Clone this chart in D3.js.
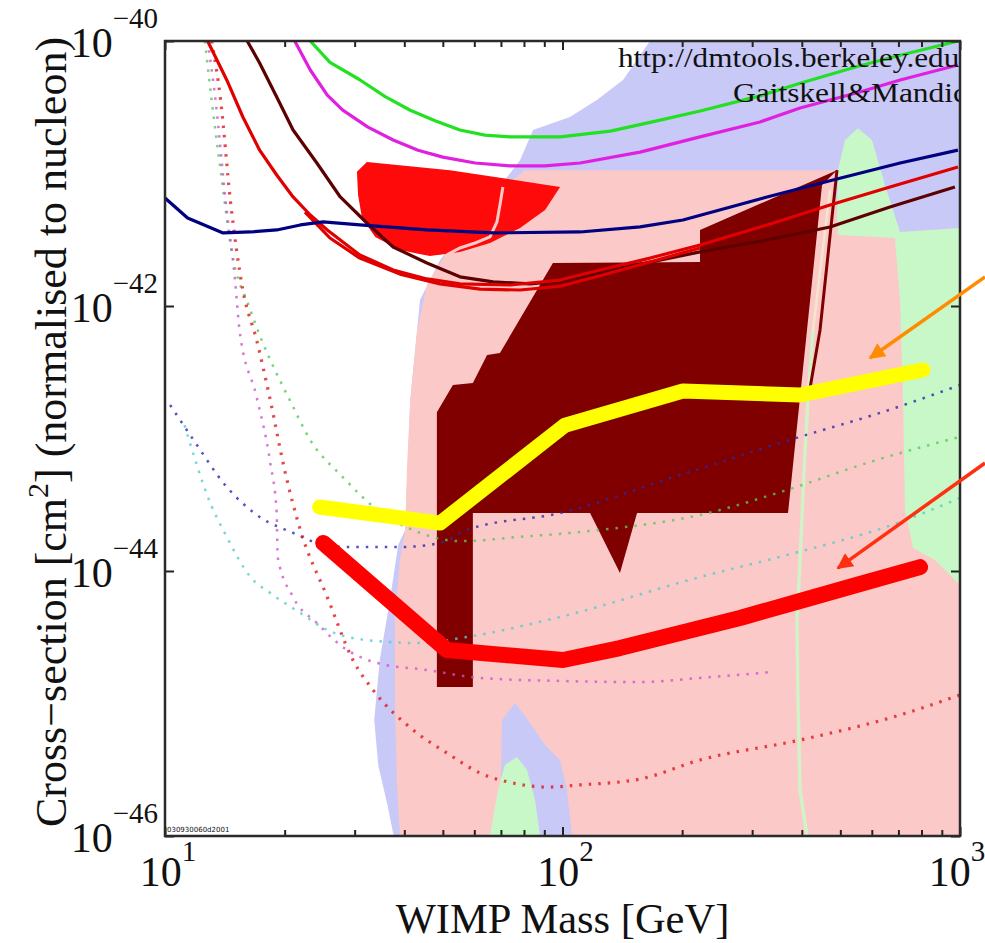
<!DOCTYPE html>
<html>
<head>
<meta charset="utf-8">
<script src="https://cdn.jsdelivr.net/npm/d3@7"></script>
<style>
  html, body { margin: 0; padding: 0; background: #fff; }
  svg { display: block; }
  text { font-family: "Liberation Serif", "Times New Roman", serif; fill: #111; }
</style>
</head>
<body>
<div id="chart"></div>
<script>
// WIMP-nucleon cross-section limits (dmtools style plot).
// Every point is [WIMP mass in GeV, cross-section in cm^2].

const xLabelValues = [10, 100, 1000];
const yLabelValues = [1e-40, 1e-42, 1e-44, 1e-46];
const xMinorValues = [20, 30, 40, 50, 60, 70, 80, 90, 200, 300, 400, 500, 600, 700, 800, 900];

// filled regions
const blueRegion = [[166, 1e-40], [142, 5.08e-41], [122, 3.59e-41], [104.4, 2.67e-41], [84.3, 2.13e-41],
  [78.2, 1.26e-41], [71.6, 8.93e-42], [58.5, 4.46e-42], [49.2, 2.22e-42], [43.8, 1.11e-42], [41.4, 1.95e-43],
  [40.2, 2.04e-44], [38.6, 1.57e-44], [36.8, 6.04e-45], [34.7, 2.13e-45], [33.6, 7.51e-46], [34.4, 3.4e-46],
  [36.3, 1.7e-46], [37.6, 1e-46], [1000, 1e-46], [1000, 1e-40]];
const greenRegion = [[487.5, 2.22e-42], [493.2, 1.06e-41], [513.6, 1.79e-41], [553.8, 2.2e-41], [600.5, 1.79e-41],
  [647.6, 8.19e-42], [706.5, 3.62e-42], [1000, 3.88e-42], [1000, 7.84e-45], [487.5, 7.84e-45]];
const pinkRegion = [[80.5, 1.06e-41], [69.6, 7.51e-42], [58.5, 4.86e-42], [50.6, 2.43e-42], [45.6, 1.44e-42],
  [43.1, 6.59e-43], [41.4, 1.95e-43], [40.6, 5.78e-44], [40.2, 2.04e-44], [39.0, 1.21e-44], [37.9, 4.27e-45],
  [37.9, 1.06e-45], [38.3, 2.65e-46], [39.0, 1e-46], [1000, 1e-46], [1000, 7.84e-45], [865, 1.21e-44],
  [762, 1.49e-44], [727, 2.89e-44], [719, 1.95e-43], [706.5, 1.11e-42], [686, 3.26e-42], [493.2, 3.44e-42],
  [484.7, 1.06e-41]];
const bluePeak = [[69.6, 1e-46], [70.4, 7.51e-46], [76.0, 1.01e-45], [81.9, 7.51e-46], [90.4, 4.86e-46],
  [98.6, 3.75e-46], [102.6, 2.22e-46], [105.7, 1e-46]];
const greenPeak = [[65.7, 1e-46], [68.8, 2.22e-46], [71.6, 3.44e-46], [76.8, 3.95e-46], [81.4, 3.15e-46],
  [85.3, 1.87e-46], [87.8, 1e-46]];
const redRegion = [[30.4, 1.03e-41], [32.2, 1.22e-41], [52.1, 1.06e-41], [98.6, 7.91e-42], [90.4, 5.3e-42],
  [78.2, 3.88e-42], [65.7, 2.99e-42], [55.2, 2.56e-42], [46.4, 2.38e-42], [39.0, 2.65e-42], [33.8, 3.32e-42],
  [31.3, 4.61e-42], [30.6, 6.88e-42]];
const redRegionVein = [[70.8, 7.91e-42], [69.6, 5.78e-42], [68.4, 4.31e-42], [65.7, 3.32e-42], [60.3, 2.99e-42],
  [55.2, 2.74e-42], [51.2, 2.43e-42]];
const maroonRegion = [[490.4, 1.06e-41], [221.8, 3.75e-42], [221.8, 2.15e-42], [94.6, 2.11e-42], [69.6, 4.42e-43],
  [64.6, 4.27e-43], [59.5, 2.62e-43], [53.0, 2.53e-43], [48.3, 1.58e-43], [48.3, 1.33e-45], [59.5, 1.33e-45],
  [59.5, 2.74e-44], [117.3, 2.74e-44], [139.5, 9.66e-45], [154.0, 2.74e-44], [369.3, 2.74e-44], [449.7, 8.19e-42]];
const maroonEdge = [[490.4, 1.06e-41], [444.5, 6.59e-43], [414.6, 1.95e-43]];
const creamEdge = [[470.9, 7.51e-42], [426.8, 6.59e-43]];
const paleGreenLine = [[426.8, 6.59e-43], [414.6, 1.95e-43], [407.5, 8.19e-44], [395.9, 1.21e-44], [389.0, 4.27e-45],
  [391.3, 1.06e-45], [395.9, 2.22e-46], [412.2, 1e-46]];

// dotted curves
const greenDotted = [[12.6, 1e-40], [13.1, 3.59e-41], [13.8, 1.06e-41], [14.7, 2.65e-42], [16.4, 9.33e-43],
  [17.5, 5.54e-43], [18.9, 3.29e-43], [20.6, 1.95e-43], [23.2, 9.74e-44], [28.0, 5.12e-44], [34.2, 2.89e-44],
  [43.8, 1.94e-44], [55.2, 1.68e-44], [78.2, 1.81e-44], [124.3, 2.04e-44], [221.8, 2.65e-44], [367, 4.09e-44],
  [594, 6.65e-44], [1000, 1.03e-43]];
const magentaDotted = [[12.8, 1e-40], [13.4, 3.59e-41], [14.2, 6.31e-42], [15.0, 1.57e-42], [15.4, 6.59e-43],
  [17.0, 2.06e-43], [18.4, 6.53e-44], [19.1, 2.74e-44], [19.2, 1.28e-44], [21.0, 6.36e-45], [24.1, 4.05e-45],
  [28.0, 2.67e-45], [34.2, 2.02e-45], [45.6, 1.79e-45], [62.0, 1.56e-45], [98.6, 1.48e-45], [156.7, 1.45e-45],
  [221.8, 1.56e-45], [338.5, 1.73e-45]];
const redDotted = [[13.1, 1e-40], [13.8, 3.59e-41], [14.6, 6.31e-42], [15.7, 1.32e-42], [17.0, 5.54e-43],
  [18.4, 1.95e-43], [20.0, 5.78e-44], [21.9, 2.04e-44], [25.6, 6.36e-45], [29.7, 2.13e-45], [33.4, 1.26e-45],
  [42.1, 6.31e-46], [51.2, 4.23e-46], [62.0, 2.99e-46], [75.1, 2.51e-46], [91.4, 2.34e-46], [110.7, 2.43e-46],
  [156.7, 2.69e-46], [221.8, 3.75e-46], [395.9, 5.3e-46], [706.5, 8.19e-46], [1000, 1.16e-45]];
const blueDotted = [[10.3, 1.79e-43], [11.8, 9.74e-44], [14.3, 4.31e-44], [17.3, 2.56e-44], [21.0, 1.94e-44],
  [24.1, 1.63e-44], [28.0, 1.52e-44], [39.7, 1.52e-44], [49.2, 1.63e-44], [57.5, 2.04e-44], [98.6, 2.74e-44],
  [197.6, 5.3e-44], [395.9, 1.03e-43], [629, 1.56e-43], [1000, 2.53e-43]];
const cyanDotted = [[11.2, 1.26e-43], [13.0, 3.26e-44], [14.3, 1.81e-44], [16.4, 9.01e-45], [18.4, 6.82e-45],
  [21.9, 4.82e-45], [25.6, 3.59e-45], [32.2, 3.01e-45], [43.8, 2.86e-45], [57.5, 3.18e-45], [98.6, 4.5e-45],
  [221.8, 9.01e-45], [352.5, 1.28e-44], [706.5, 2.34e-44], [1000, 3.56e-44]];

// solid limit curves
const greenLimit = [[23.2, 1e-40], [26.0, 6.9e-41], [30.9, 5.1e-41], [35.8, 3.8e-41], [41.4, 3.0e-41], [47.8, 2.5e-41],
  [55.2, 2.13e-41], [63.8, 1.95e-41], [73.8, 1.89e-41], [98.6, 1.89e-41], [132, 2.09e-41], [176, 2.53e-41],
  [222, 2.96e-41], [314, 3.85e-41], [396, 4.8e-41], [560, 6.5e-41], [707, 7.8e-41], [990, 1e-40]];
const magentaLimit = [[21.2, 1e-40], [23.2, 6.04e-41], [25.6, 3.91e-41], [28.0, 3.01e-41], [32.4, 2.24e-41],
  [37.5, 1.79e-41], [43.3, 1.5e-41], [50.0, 1.33e-41], [60.3, 1.2e-41], [73.8, 1.14e-41], [90.4, 1.14e-41],
  [110.7, 1.2e-41], [156.7, 1.45e-41], [221.8, 1.89e-41], [314, 2.45e-41], [396, 3.12e-41], [560, 4.12e-41],
  [707, 5.08e-41], [988, 6.59e-41]];
const brownLimit = [[16.1, 1e-40], [17.3, 6.82e-41], [19.1, 3.78e-41], [21.0, 2.13e-41], [24.1, 1.2e-41],
  [27.6, 6.65e-42], [32.2, 4.23e-42], [37.5, 2.79e-42], [45.6, 2.11e-42], [55.2, 1.66e-42], [66.9, 1.52e-42],
  [82.8, 1.47e-42], [104.4, 1.57e-42], [156.7, 2.07e-42], [221.8, 2.56e-42], [327, 3.15e-42], [470.9, 3.95e-42],
  [666.6, 5.59e-42], [971, 7.91e-42]];
const redLimitA = [[12.8, 1e-40], [14.3, 5.08e-41], [15.7, 2.67e-41], [17.3, 1.5e-41], [19.1, 9.74e-42],
  [21.0, 6.65e-42], [23.2, 4.86e-42], [25.6, 3.75e-42], [30.9, 2.43e-42], [37.5, 1.87e-42], [45.6, 1.6e-42],
  [55.2, 1.47e-42], [73.8, 1.44e-42], [98.6, 1.57e-42], [124.3, 1.87e-42], [166.1, 2.3e-42], [221.8, 2.89e-42],
  [327, 4.09e-42], [470.9, 5.78e-42], [666.6, 7.91e-42], [988.5, 1.12e-41]];
const redLimitB = [[22.5, 5.12e-42], [26.0, 3.26e-42], [30.9, 2.3e-42], [39.0, 1.74e-42], [49.2, 1.47e-42],
  [62.0, 1.34e-42], [78.2, 1.32e-42], [98.6, 1.41e-42], [124.3, 1.69e-42], [166.1, 2.15e-42], [221.8, 2.74e-42]];
const navyLimit = [[10, 6.53e-42], [11.4, 4.61e-42], [14.0, 3.56e-42], [16.4, 3.62e-42], [19.1, 3.75e-42],
  [21.9, 4.09e-42], [25.0, 4.31e-42], [30.9, 4.09e-42], [45.6, 3.75e-42], [66.9, 3.56e-42], [110.7, 3.62e-42],
  [156.7, 3.95e-42], [200.9, 4.46e-42], [327, 6.65e-42], [479, 8.93e-42], [707, 1.2e-41], [988, 1.5e-41]];

// thick projected sensitivities
const yellowProjection = [[24.5, 3.04e-44], [49.2, 2.3e-44], [101.5, 1.26e-43], [200.9, 2.28e-43],
  [395.9, 2.13e-43], [807, 3.29e-43]];
const redProjection = [[25.0, 1.63e-44], [51.2, 2.53e-45], [100.3, 2.13e-45], [139.5, 2.62e-45], [197.6, 3.4e-45],
  [279.6, 4.42e-45], [395.9, 5.94e-45], [560.2, 7.98e-45], [793.4, 1.07e-44]];

// annotation arrows: [start, tip]
const orangeArrow = [[1156, 1.66e-42], [594, 4.05e-43]];
const redArrow = [[1156, 6.53e-44], [493, 1.05e-44]];

const W = 985, H = 943;
const plot = { left: 165, right: 960, top: 41, bottom: 836 };

const svg = d3.select("#chart").append("svg")
    .attr("width", W)
    .attr("height", H);

const x = d3.scaleLog().domain([10, 1000]).range([plot.left, plot.right]);
const y = d3.scaleLog().domain([1e-46, 1e-40]).range([plot.bottom, plot.top]);
const line = d3.line().x(d => x(d[0])).y(d => y(d[1]));
const smooth = d3.line().x(d => x(d[0])).y(d => y(d[1])).curve(d3.curveMonotoneX);

const defs = svg.append("defs");
defs.append("clipPath").attr("id", "plot-clip")
  .append("rect")
    .attr("x", plot.left).attr("y", plot.top)
    .attr("width", plot.right - plot.left).attr("height", plot.bottom - plot.top);

// arrow heads
[["orange-head", "#ff8c00"], ["red-head", "#ff3010"]].forEach(([id, col]) => {
    defs.append("marker")
        .attr("id", id)
        .attr("viewBox", "0 0 10 10")
        .attr("refX", 9).attr("refY", 5)
        .attr("markerUnits", "userSpaceOnUse")
        .attr("markerWidth", 22).attr("markerHeight", 16)
        .attr("orient", "auto")
      .append("path")
        .attr("d", "M0,0 L10,5 L0,10 z")
        .attr("fill", col);
});

const g = svg.append("g").attr("clip-path", "url(#plot-clip)");

// regions, back to front
const regions = [
    { data: blueRegion, fill: "#c9c9f7" },
    { data: greenRegion, fill: "#c8f7c8" },
    { data: pinkRegion, fill: "#fcc9c9" },
    { data: bluePeak, fill: "#c9c9f7" },
    { data: greenPeak, fill: "#c8f7c8" },
    { data: redRegion, fill: "#ff0a0a" }
];
regions.forEach(r => {
    g.append("path").attr("d", line(r.data) + "Z").attr("fill", r.fill);
});

g.append("path").attr("d", line(redRegionVein))
    .attr("fill", "none").attr("stroke", "#fcc9c9").attr("stroke-width", 3);

g.append("path").attr("d", line(paleGreenLine))
    .attr("fill", "none").attr("stroke", "#d2f2c8").attr("stroke-width", 3.5);

g.append("path").attr("d", line(maroonRegion) + "Z").attr("fill", "#800000");
g.append("path").attr("d", line(maroonEdge))
    .attr("fill", "none").attr("stroke", "#800000").attr("stroke-width", 3);
g.append("path").attr("d", line(creamEdge))
    .attr("fill", "none").attr("stroke", "#f4e6cc").attr("stroke-width", 2.5);

// dotted curves
const dotted = [
    { data: greenDotted, color: "#58c858", width: 2.5 },
    { data: magentaDotted, color: "#cc55cc", width: 2.5 },
    { data: cyanDotted, color: "#55cccc", width: 2.5 },
    { data: blueDotted, color: "#2828b0", width: 2.5 },
    { data: redDotted, color: "#e01818", width: 3.2 }
];
dotted.forEach(c => {
    g.append("path").attr("d", smooth(c.data))
        .attr("fill", "none")
        .attr("stroke", c.color)
        .attr("stroke-width", c.width)
        .attr("stroke-dasharray", "2.5,7")
        .attr("opacity", 0.8);
});

// solid limit curves
const limits = [
    { data: greenLimit, color: "#22e022" },
    { data: magentaLimit, color: "#e020e0" },
    { data: brownLimit, color: "#5c0000" },
    { data: redLimitB, color: "#e00000" },
    { data: redLimitA, color: "#e00000" },
    { data: navyLimit, color: "#000080" }
];
limits.forEach(c => {
    g.append("path").attr("d", line(c.data))
        .attr("fill", "none")
        .attr("stroke", c.color)
        .attr("stroke-width", 3.2)
        .attr("stroke-linejoin", "round");
});

// thick projections
g.append("path").attr("d", line(yellowProjection))
    .attr("fill", "none").attr("stroke", "#ffff00")
    .attr("stroke-width", 15).attr("stroke-linejoin", "round").attr("stroke-linecap", "round");
g.append("path").attr("d", line(redProjection))
    .attr("fill", "none").attr("stroke", "#ff0000")
    .attr("stroke-width", 16).attr("stroke-linejoin", "round").attr("stroke-linecap", "round");

// credits inside the frame
g.append("text")
    .attr("x", 618).attr("y", 67)
    .attr("textLength", 350).attr("lengthAdjust", "spacingAndGlyphs")
    .style("font-size", "28px")
    .text("http://dmtools.berkeley.edu/");
g.append("text")
    .attr("x", 733).attr("y", 102)
    .attr("textLength", 234).attr("lengthAdjust", "spacingAndGlyphs")
    .style("font-size", "28px")
    .text("Gaitskell&Mandic");
g.append("text")
    .attr("x", 167).attr("y", 832)
    .style("font-size", "7px")
    .style("font-family", "DejaVu Sans")
    .text("030930060d2001");

// ticks (inward)
const axisStyle = sel => {
    sel.select(".domain").remove();
    sel.selectAll(".tick line").attr("stroke", "#222").attr("stroke-width", 2);
};
svg.append("g").attr("transform", `translate(0,${plot.bottom})`)
    .call(d3.axisBottom(x).tickValues(xMinorValues).tickSize(-6).tickFormat(""))
    .call(axisStyle);
svg.append("g").attr("transform", `translate(0,${plot.top})`)
    .call(d3.axisTop(x).tickValues(xMinorValues).tickSize(-6).tickFormat(""))
    .call(axisStyle);
svg.append("g").attr("transform", `translate(0,${plot.bottom})`)
    .call(d3.axisBottom(x).tickValues(xLabelValues).tickSize(-9).tickFormat(""))
    .call(axisStyle);
svg.append("g").attr("transform", `translate(0,${plot.top})`)
    .call(d3.axisTop(x).tickValues(xLabelValues).tickSize(-9).tickFormat(""))
    .call(axisStyle);
svg.append("g").attr("transform", `translate(${plot.left},0)`)
    .call(d3.axisLeft(y).tickValues(yLabelValues).tickSize(-9).tickFormat(""))
    .call(axisStyle);
svg.append("g").attr("transform", `translate(${plot.right},0)`)
    .call(d3.axisRight(y).tickValues(yLabelValues).tickSize(-9).tickFormat(""))
    .call(axisStyle);

// frame
svg.append("rect")
    .attr("x", plot.left).attr("y", plot.top)
    .attr("width", plot.right - plot.left).attr("height", plot.bottom - plot.top)
    .attr("fill", "none").attr("stroke", "#2a2a2a").attr("stroke-width", 2.5);

// tick labels: 10 with superscript exponent
yLabelValues.forEach(v => {
    const t = svg.append("text")
        .attr("x", plot.left - 7)
        .attr("y", y(v) + 16)
        .attr("text-anchor", "end")
        .style("font-size", "42px");
    t.append("tspan").text("10");
    t.append("tspan").attr("dy", -29).style("font-size", "29px")
        .text("\u2212" + Math.round(-Math.log10(v)));
});
xLabelValues.forEach(v => {
    const t = svg.append("text")
        .attr("x", x(v) + (v === 1000 ? -3 : 3))
        .attr("y", 886)
        .attr("text-anchor", "middle")
        .style("font-size", "42px");
    t.append("tspan").text("10");
    t.append("tspan").attr("dy", -25).style("font-size", "29px")
        .text(Math.round(Math.log10(v)));
});

// axis titles
svg.append("text")
    .attr("x", (plot.left + plot.right) / 2)
    .attr("y", 933)
    .attr("text-anchor", "middle")
    .style("font-size", "42.5px")
    .text("WIMP Mass [GeV]");

const yTitle = svg.append("text")
    .attr("transform", "translate(66,432) rotate(-90)")
    .attr("text-anchor", "middle")
    .style("font-size", "44px");
yTitle.append("tspan").text("Cross\u2212section [cm");
yTitle.append("tspan").attr("dy", -18).style("font-size", "30px").text("2");
yTitle.append("tspan").attr("dy", 18).text("] (normalised to nucleon)");

// arrows pointing at the two projections
[[orangeArrow, "#ff8c00", "orange-head"], [redArrow, "#ff3010", "red-head"]].forEach(([pts, col, head]) => {
    svg.append("path")
        .attr("d", line(pts))
        .attr("fill", "none")
        .attr("stroke", col)
        .attr("stroke-width", 3.5)
        .attr("marker-end", `url(#${head})`);
});
</script>
</body>
</html>
